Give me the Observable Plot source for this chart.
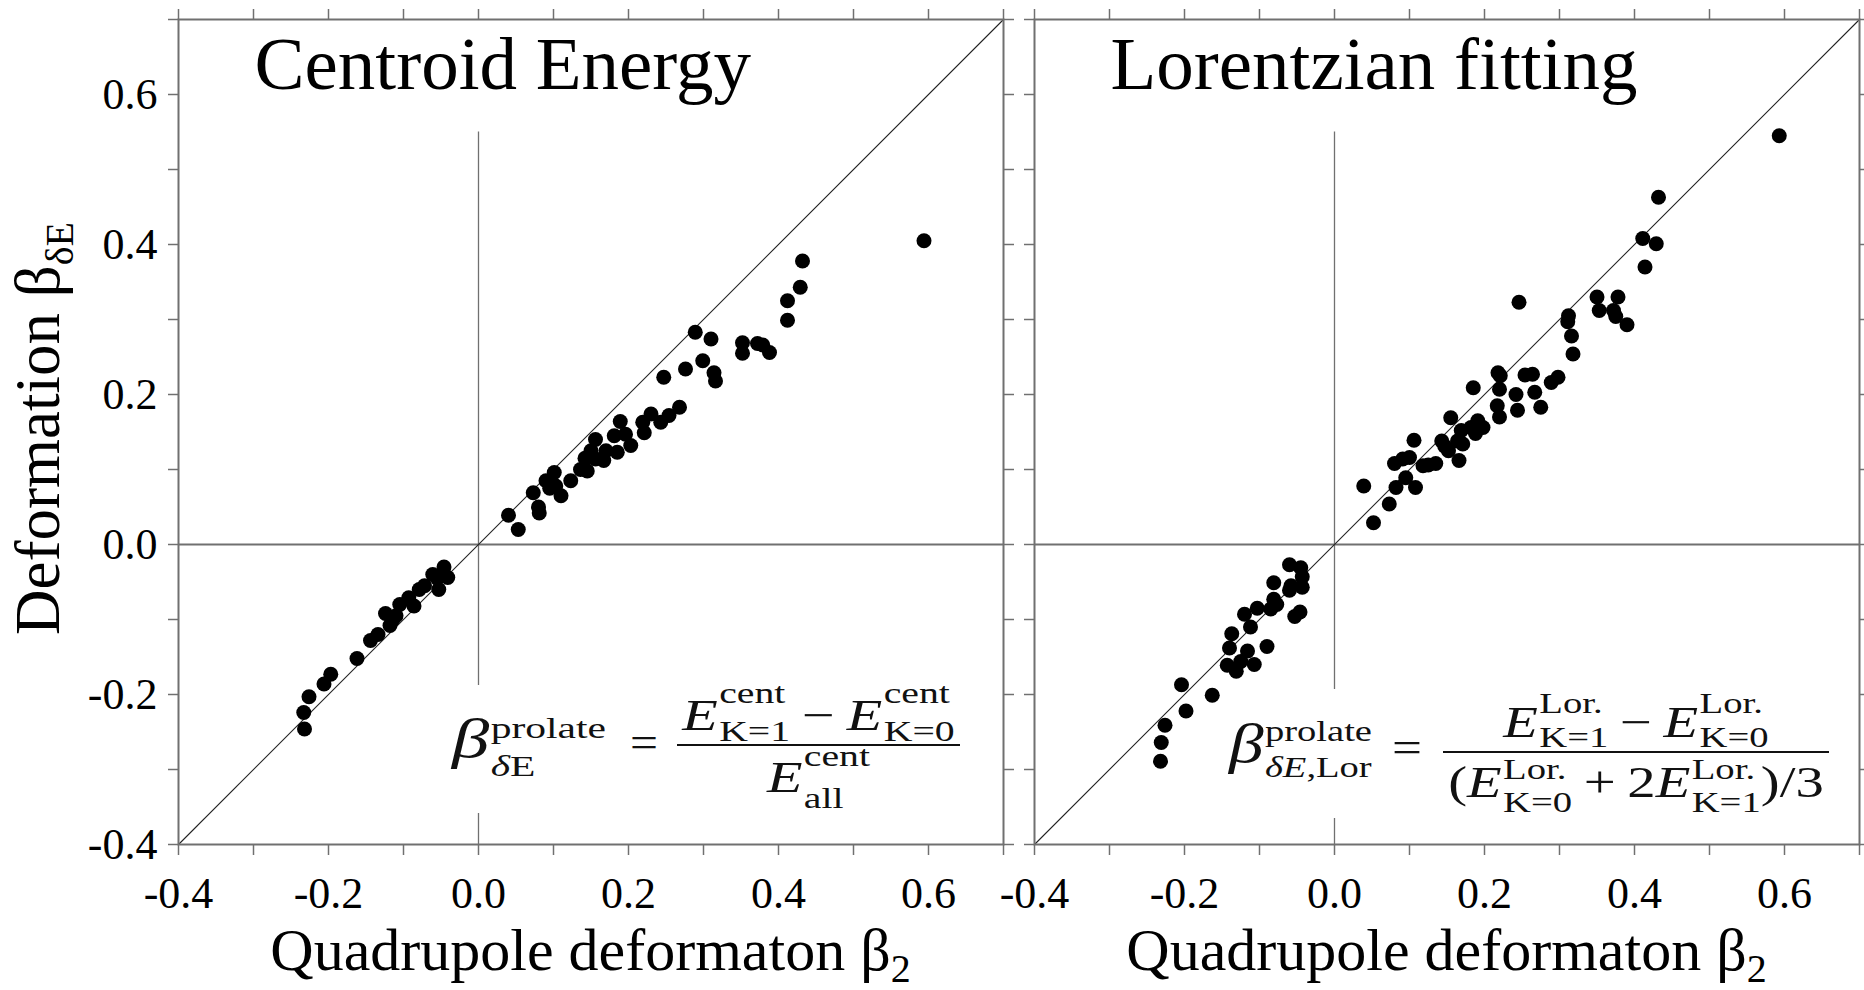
<!DOCTYPE html>
<html>
<head>
<meta charset="utf-8">
<script src="https://cdn.jsdelivr.net/npm/d3@7"></script>
<script src="https://cdn.jsdelivr.net/npm/@observablehq/plot@0.6"></script>
<style>
  html, body { margin: 0; padding: 0; background: #fff; }
  #chart { position: relative; width: 1864px; height: 990px; overflow: hidden; background: #fff; }
  #chart > svg { position: absolute; top: 0; }
</style>
</head>
<body>
<div id="chart"></div>
<script>
// Deformation extracted from the K=0 / K=1 splitting versus quadrupole deformation β2

// Centroid-energy extraction
const centroidBeta2 = [
  -0.232, -0.233, -0.226, -0.206, -0.197, -0.162, -0.144, -0.134, -0.124, -0.114, -0.118,
  -0.105, -0.110, -0.093, -0.086, -0.079, -0.072, -0.061, -0.053, -0.046, -0.041, -0.055,
  0.040, 0.053, 0.073, 0.080, 0.081, 0.090, 0.095, 0.101, 0.103, 0.110, 0.123, 0.136,
  0.145, 0.142, 0.150, 0.156, 0.156, 0.167, 0.170, 0.181, 0.185, 0.189, 0.196, 0.203,
  0.219, 0.221, 0.230, 0.243, 0.254, 0.268, 0.247, 0.276, 0.289, 0.299, 0.310, 0.314,
  0.316, 0.352, 0.352, 0.372, 0.379, 0.388, 0.412, 0.412, 0.429, 0.432, 0.594
];
const centroidBetaDE = [
  -0.246, -0.224, -0.203, -0.186, -0.173, -0.152, -0.128, -0.120, -0.092, -0.100, -0.108,
  -0.080, -0.095, -0.071, -0.082, -0.060, -0.055, -0.040, -0.060, -0.030, -0.044, -0.045,
  0.039, 0.020, 0.069, 0.050, 0.042, 0.085, 0.075, 0.096, 0.078, 0.065, 0.085, 0.100,
  0.098, 0.115, 0.125, 0.140, 0.114, 0.112, 0.125, 0.145, 0.123, 0.164, 0.147, 0.132,
  0.163, 0.149, 0.174, 0.163, 0.172, 0.183, 0.223, 0.234, 0.283, 0.245, 0.274, 0.229,
  0.218, 0.269, 0.255, 0.268, 0.266, 0.256, 0.325, 0.299, 0.343, 0.378, 0.405
];

// Lorentzian-fit extraction
const lorentzBeta2 = [
  -0.232, -0.231, -0.226, -0.204, -0.198, -0.163, -0.143, -0.140, -0.137, -0.131, -0.125,
  -0.116, -0.107, -0.120, -0.112, -0.103, -0.090, -0.085, -0.081, -0.081, -0.077, -0.060,
  -0.045, -0.043, -0.058, -0.060, -0.043, -0.053, -0.046,
  0.039, 0.052, 0.073, 0.082, 0.080, 0.091, 0.100, 0.095, 0.108, 0.106, 0.118, 0.125,
  0.135, 0.143, 0.147, 0.155, 0.152, 0.166, 0.164, 0.171, 0.169, 0.185, 0.182, 0.191,
  0.198, 0.188, 0.218, 0.221, 0.220, 0.217, 0.220, 0.242, 0.244, 0.246, 0.254, 0.264,
  0.267, 0.275, 0.289, 0.298, 0.312, 0.311, 0.316, 0.318, 0.350, 0.353, 0.378, 0.372,
  0.375, 0.390, 0.411, 0.414, 0.429, 0.432, 0.593
];
const lorentzBetaDE = [
  -0.289, -0.264, -0.241, -0.187, -0.222, -0.201, -0.161, -0.138, -0.119, -0.169, -0.156,
  -0.142, -0.160, -0.093, -0.110, -0.085, -0.136, -0.086, -0.073, -0.051, -0.080, -0.027,
  -0.031, -0.043, -0.055, -0.061, -0.057, -0.096, -0.090,
  0.078, 0.029, 0.054, 0.076, 0.108, 0.114, 0.116, 0.089, 0.076, 0.139, 0.105, 0.106,
  0.108, 0.138, 0.131, 0.169, 0.125, 0.112, 0.138, 0.134, 0.152, 0.209, 0.156, 0.165,
  0.156, 0.148, 0.229, 0.225, 0.207, 0.185, 0.170, 0.200, 0.179, 0.323, 0.226, 0.227,
  0.203, 0.183, 0.216, 0.223, 0.305, 0.297, 0.278, 0.254, 0.330, 0.312, 0.330, 0.312,
  0.304, 0.293, 0.408, 0.370, 0.401, 0.463, 0.545
];

const panelTitles = ["Centroid Energy", "Lorentzian fitting"];
const axisDomain = [-0.4, 0.7];
const tickValues = [-0.4, -0.3, -0.2, -0.1, 0, 0.1, 0.2, 0.3, 0.4, 0.5, 0.6, 0.7];
const labelValues = [-0.4, -0.2, 0, 0.2, 0.4, 0.6];
const tickLabels = ["-0.4", "-0.2", "0.0", "0.2", "0.4", "0.6"];
const xTitle = ["Quadrupole deformaton β", "2"];
const yTitle = ["Deformation β", "δE"];

const SERIF = "'Liberation Serif', 'Times New Roman', serif";
const GRAY = "#707070";
const FRAME_TOP = 19, FRAME_SIZE = 825, HEIGHT = 990;

const fmtTick = d => tickLabels[labelValues.indexOf(d)];
const blank = () => "";

function panel({title, xs, ys, yLabels, width, marginLeft}) {
  const points = xs.map((x, i) => ({x, y: ys[i]}));
  return Plot.plot({
    width,
    height: HEIGHT,
    marginLeft,
    marginRight: width - marginLeft - FRAME_SIZE,
    marginTop: FRAME_TOP,
    marginBottom: HEIGHT - FRAME_TOP - FRAME_SIZE,
    x: {domain: axisDomain, label: null},
    y: {domain: axisDomain, label: null},
    style: {background: "transparent", fontFamily: SERIF, color: "black", overflow: "visible"},
    marks: [
      Plot.ruleY([0], {stroke: GRAY, strokeWidth: 2}),
      Plot.ruleX([0], {y1: -0.4, y2: 0.55, stroke: GRAY, strokeWidth: 1.3}),
      Plot.line(axisDomain, {x: d => d, y: d => d, stroke: "#222", strokeWidth: 1.1}),
      Plot.dot(points, {x: "x", y: "y", r: 7.5, fill: "black"}),
      Plot.frame({stroke: GRAY, strokeWidth: 2}),
      Plot.axisX(tickValues, {anchor: "bottom", tickSize: 11, tickFormat: blank, stroke: GRAY, strokeWidth: 1.5, label: null}),
      Plot.axisX(tickValues, {anchor: "top", tickSize: 11, tickFormat: blank, stroke: GRAY, strokeWidth: 1.5, label: null}),
      Plot.axisY(tickValues, {anchor: "left", tickSize: 10, tickFormat: blank, stroke: GRAY, strokeWidth: 1.5, label: null}),
      Plot.axisY(tickValues, {anchor: "right", tickSize: 10, tickFormat: blank, stroke: GRAY, strokeWidth: 1.5, label: null}),
      Plot.axisX(labelValues, {anchor: "bottom", tickSize: 0, tickPadding: 32, tickFormat: fmtTick, fontSize: 44, fill: "black", label: null}),
      yLabels ? Plot.axisY(labelValues, {anchor: "left", tickSize: 0, tickPadding: 21, tickFormat: fmtTick, fontSize: 44, fill: "black", label: null}) : null,
      Plot.text([title], {text: d => d, frameAnchor: "top-left", dx: 76, dy: 69, lineAnchor: "bottom", textAnchor: "start", fontSize: 75, fill: "black"})
    ]
  });
}

// Axis titles with subscripts
function xAxisTitle(svg) {
  const cx = svg.scale("x").apply((axisDomain[0] + axisDomain[1]) / 2);
  const t = d3.select(svg).append("text")
    .attr("x", cx).attr("y", 970).attr("text-anchor", "middle")
    .attr("font-family", SERIF).attr("font-size", 60).attr("fill", "black");
  t.append("tspan").text(xTitle[0]);
  t.append("tspan").attr("dy", 12).attr("font-size", 40).text(xTitle[1]);
}
function yAxisTitle(svg) {
  const cy = svg.scale("y").apply((axisDomain[0] + axisDomain[1]) / 2);
  const t = d3.select(svg).append("text")
    .attr("transform", `translate(59,${cy - 3}) rotate(-90)`).attr("text-anchor", "middle")
    .attr("font-family", SERIF).attr("font-size", 63).attr("fill", "black");
  t.append("tspan").text(yTitle[0]);
  t.append("tspan").attr("dy", 14).attr("font-size", 40).text(yTitle[1]);
}

// Small typesetter for the defining formulas
const EQ = {main: 44, script: 30, lhs: 54};

function put(g, x, y, size, segs) {
  const t = g.append("text").attr("x", x).attr("y", y).attr("font-size", size).attr("text-anchor", "start");
  for (const [s, it] of segs) t.append("tspan").attr("font-style", it ? "italic" : null).text(s);
  return t.node().getComputedTextLength();
}
function scripted(g, x, y, base, size, sup, sub, up, down) {
  const w = put(g, x, y, size, base);
  const sx = x + w + 1;
  let sw = 0;
  if (sup) sw = Math.max(sw, put(g, sx, y - up, EQ.script, sup));
  if (sub) sw = Math.max(sw, put(g, sx, y + down, EQ.script, sub));
  return w + 1 + sw;
}
function sequence(g, items, up, down) {
  let x = 0;
  for (const it of items) {
    if (it.text) {
      x += it.pad || 0;
      x += put(g, x, 0, EQ.main, it.text);
      x += it.pad || 0;
    } else {
      x += scripted(g, x, 0, it.base, EQ.main, it.sup, it.sub, up, down);
    }
  }
  return x;
}
function drawFormula(svg, f, offsetX) {
  const root = d3.select(svg).append("g");
  root.append("rect")
    .attr("x", f.box[0] - offsetX).attr("y", f.box[1])
    .attr("width", f.box[2] - f.box[0]).attr("height", f.box[3] - f.box[1])
    .attr("fill", "white");
  const g = root.append("g").attr("font-family", SERIF).attr("fill", "#111").attr("text-anchor", "start");

  // left-hand side, stretched to its span
  const lhs = g.append("g");
  const wl = scripted(lhs, 0, 0, f.lhs.base, EQ.lhs, f.lhs.sup, f.lhs.sub, f.lhsUp, f.lhsDown);
  lhs.attr("transform", `translate(${f.left - offsetX},${f.baseline}) scale(${(f.lhsRight - f.left) / wl},1)`);

  // equals sign
  const eq = g.append("g");
  const we = put(eq, 0, 0, EQ.main, [["="]]);
  eq.attr("transform", `translate(${f.eqLeft - offsetX},${f.baseline}) scale(${f.eqWidth / we},1)`);

  // fraction
  const frac = g.append("g");
  const num = frac.append("g"), den = frac.append("g");
  const wn = sequence(num, f.num, f.numUp, f.numDown);
  const wd = sequence(den, f.den, f.denUp, f.denDown);
  const wb = Math.max(wn, wd) + 8;
  num.attr("transform", `translate(${(wb - wn) / 2},${f.numY})`);
  den.attr("transform", `translate(${(wb - wd) / 2},${f.denY})`);
  frac.append("line")
    .attr("x1", 0).attr("x2", wb).attr("y1", f.barY).attr("y2", f.barY)
    .attr("stroke", "#111").attr("stroke-width", 1.8);
  frac.attr("transform", `translate(${f.barLeft - offsetX},${f.baseline}) scale(${(f.right - f.barLeft) / wb},1)`);
}

const centroidFormula = {
  lhs: {base: [["β", true]], sup: [["prolate"]], sub: [["δ", true], ["E"]]},
  num: [
    {base: [["E", true]], sup: [["cent"]], sub: [["K=1"]]},
    {text: [["−"]], pad: 9},
    {base: [["E", true]], sup: [["cent"]], sub: [["K=0"]]}
  ],
  den: [{base: [["E", true]], sup: [["cent"]], sub: [["all"]]}],
  left: 452, lhsRight: 606, eqLeft: 630, eqWidth: 28, barLeft: 677, right: 960, baseline: 757,
  lhsUp: 19, lhsDown: 19,
  numY: -27, numUp: 27, numDown: 11,
  barY: -12,
  denY: 35, denUp: 26, denDown: 16,
  box: [446, 685, 978, 813]
};
const lorentzFormula = {
  lhs: {base: [["β", true]], sup: [["prolate"]], sub: [["δ", true], ["E", true], [",Lor"]]},
  num: [
    {base: [["E", true]], sup: [["Lor."]], sub: [["K=1"]]},
    {text: [["−"]], pad: 9},
    {base: [["E", true]], sup: [["Lor."]], sub: [["K=0"]]}
  ],
  den: [
    {text: [["("]]},
    {base: [["E", true]], sup: [["Lor."]], sub: [["K=0"]]},
    {text: [["+"]], pad: 9},
    {text: [["2"]]},
    {base: [["E", true]], sup: [["Lor."]], sub: [["K=1"]]},
    {text: [[")/3"]]}
  ],
  left: 1229, lhsRight: 1372, eqLeft: 1392, eqWidth: 30, barLeft: 1443, right: 1829, baseline: 762,
  lhsUp: 21, lhsDown: 15,
  numY: -25, numUp: 24, numDown: 10,
  barY: -10,
  denY: 35, denUp: 18, denDown: 15,
  box: [1222, 689, 1840, 818]
};

const chart = document.getElementById("chart");

const leftPlot = panel({title: panelTitles[0], xs: centroidBeta2, ys: centroidBetaDE, yLabels: true, width: 1020, marginLeft: 178});
leftPlot.style.left = "0px";
chart.appendChild(leftPlot);

const rightOffset = 990;
const rightPlot = panel({title: panelTitles[1], xs: lorentzBeta2, ys: lorentzBetaDE, yLabels: false, width: 1864 - rightOffset, marginLeft: 44});
rightPlot.style.left = rightOffset + "px";
chart.appendChild(rightPlot);

xAxisTitle(leftPlot);
xAxisTitle(rightPlot);
yAxisTitle(leftPlot);
drawFormula(leftPlot, centroidFormula, 0);
drawFormula(rightPlot, lorentzFormula, rightOffset);
</script>
</body>
</html>
